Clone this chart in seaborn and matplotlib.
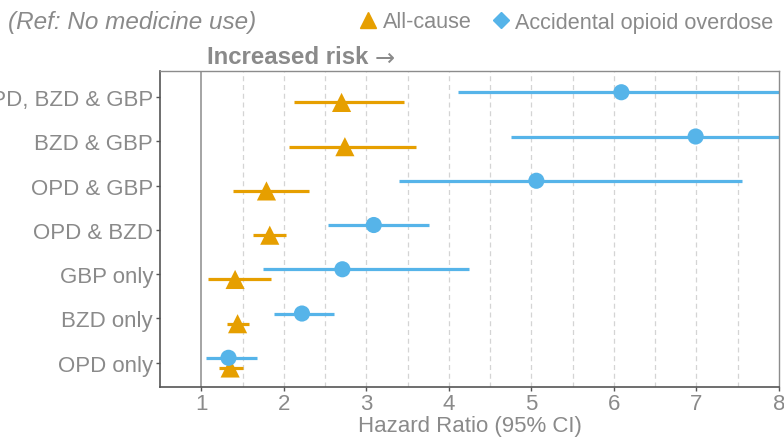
import numpy as np
import pandas as pd
import matplotlib
matplotlib.use("Agg")
import matplotlib.pyplot as plt
from matplotlib.lines import Line2D
import seaborn as sns

categories = ["OPD, BZD & GBP", "BZD & GBP", "OPD & GBP", "OPD & BZD",
              "GBP only", "BZD only", "OPD only"]
allcause_hr = [2.70, 2.74, 1.79, 1.83, 1.41, 1.44, 1.35]
allcause_lo = [2.12, 2.06, 1.38, 1.63, 1.08, 1.31, 1.22]
allcause_hi = [3.46, 3.60, 2.31, 2.03, 1.84, 1.58, 1.50]
overdose_hr = [6.09, 6.99, 5.06, 3.09, 2.71, 2.22, 1.33]
overdose_lo = [4.11, 4.75, 3.39, 2.53, 1.75, 1.88, 1.06]
overdose_hi = [9.00, 10.3, 7.55, 3.76, 4.24, 2.61, 1.67]
x_ticks = [1, 2, 3, 4, 5, 6, 7, 8]
series_names = ["All-cause", "Accidental opioid overdose"]

ORANGE = "#E69F00"
BLUE = "#56B4E9"
GREY = "#8a8a8a"

sns.set_theme(style="white")
plt.rcParams["font.family"] = ["Liberation Sans", "DejaVu Sans"]

n = len(categories)
idx = np.arange(n)
df = pd.DataFrame({
    "cat": categories * 2,
    "y": np.concatenate([idx + 0.12, idx - 0.11]),
    "hr": allcause_hr + overdose_hr,
    "lo": allcause_lo + overdose_lo,
    "hi": allcause_hi + overdose_hi,
    "outcome": [series_names[0]] * n + [series_names[1]] * n,
})

fig = plt.figure(figsize=(7.84, 4.39), dpi=100)
ax = fig.add_axes([160 / 784, 1 - 388 / 439, 619 / 784, 316 / 439])

# grid
for g in np.arange(1.5, 8.0, 0.5):
    ax.axvline(g, color="#d4d4d4", lw=0.9, ls=(0, (4, 3)), zorder=0)
ax.axvline(1, color="#8c8c8c", lw=1.1, zorder=1)

palette = {series_names[0]: ORANGE, series_names[1]: BLUE}
for name, sub in df.groupby("outcome", sort=False):
    ax.hlines(sub["y"], sub["lo"], sub["hi"], color=palette[name], lw=2.3, zorder=2)

sns.scatterplot(data=df, x="hr", y="y", hue="outcome", style="outcome",
                size="outcome",
                sizes={series_names[0]: 190, series_names[1]: 135},
                palette=palette, markers={series_names[0]: "^", series_names[1]: "o"},
                edgecolor="none", legend=False, ax=ax, zorder=3)

ax.set_xlim(0.5, 8)
ax.set_ylim(n - 1 + 0.55, -0.59)
ax.set_yticks(idx)
ax.set_yticklabels(categories)
ax.set_xticks(x_ticks)
ax.set_xticklabels([str(t) for t in x_ticks])
ax.tick_params(axis="both", labelsize=16, labelcolor=GREY, color="#555555",
               length=3, width=1, left=True, bottom=True, pad=2)
ax.tick_params(axis="x", pad=1)
ax.set_xlabel("Hazard Ratio (95% CI)", fontsize=16, color=GREY, labelpad=1)
ax.set_ylabel("")
for side in ["left", "bottom"]:
    ax.spines[side].set_color("#555555")
    ax.spines[side].set_linewidth(1.2)
for side in ["top", "right"]:
    ax.spines[side].set_color("#8c8c8c")
    ax.spines[side].set_linewidth(1.0)

fig.text(8 / 784, 1 - 23 / 439, "(Ref: No medicine use)", fontsize=17.5,
         style="italic", color=GREY, va="center", ha="left")
fig.text(207 / 784, 1 - 58 / 439, "Increased risk", fontsize=17.3,
         fontweight="bold", color=GREY, va="center", ha="left")
fig.text(375 / 784, 1 - 59 / 439, "\u2192", fontsize=17.3, family=["DejaVu Sans"],
         color=GREY, va="center", ha="left")

handles = [Line2D([], [], ls="none", marker="^", color=ORANGE, markersize=12),
           Line2D([], [], ls="none", marker="D", color=BLUE, markersize=8)]
fig.legend(handles, series_names, loc="center right",
           bbox_to_anchor=(773 / 784, 1 - 23 / 439), ncol=2, frameon=False,
           fontsize=15.6, labelcolor=GREY, handlelength=1.0, handletextpad=0.15,
           columnspacing=0.85, borderaxespad=0, borderpad=0)

fig.savefig("out.png", dpi=100)
